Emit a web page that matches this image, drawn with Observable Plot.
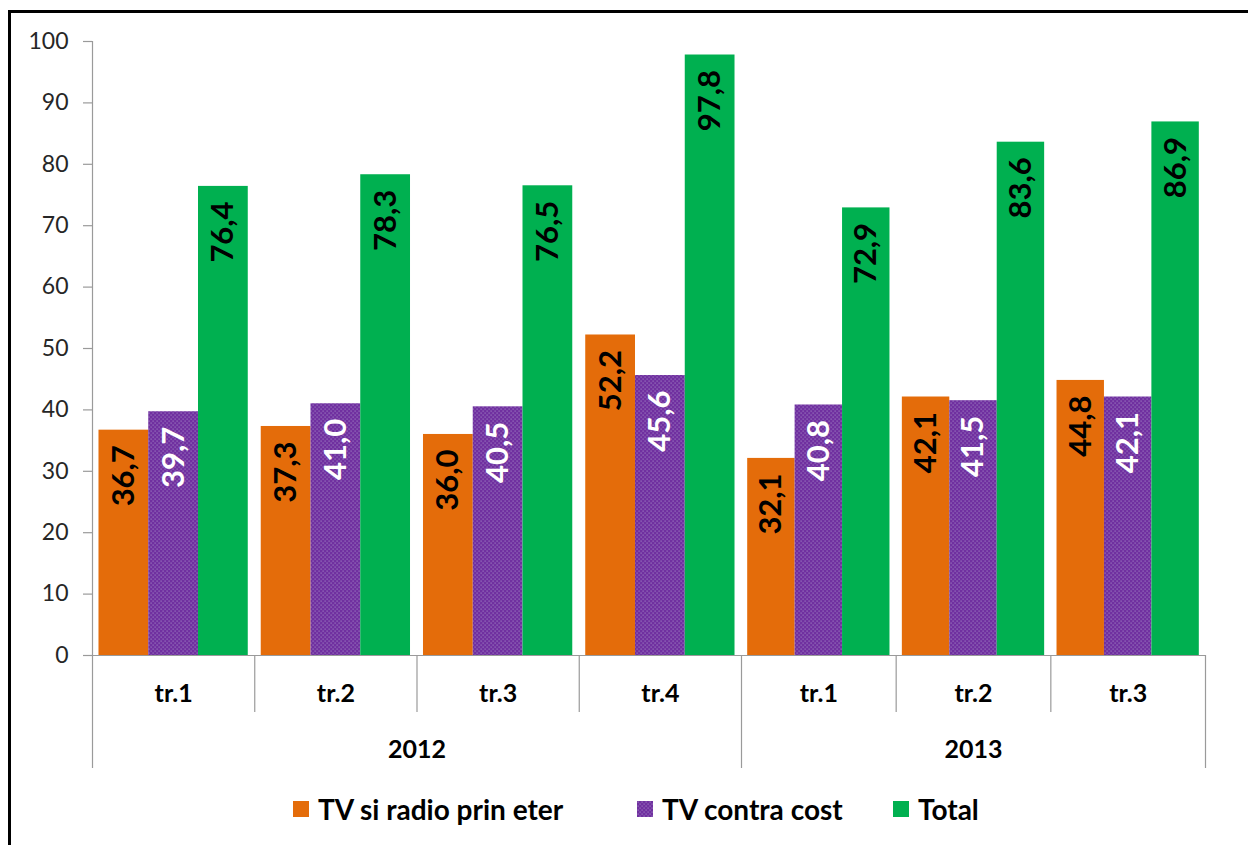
<!DOCTYPE html>
<html>
<head>
<meta charset="utf-8">
<script src="https://cdn.jsdelivr.net/npm/d3@7"></script>
<script src="https://cdn.jsdelivr.net/npm/@observablehq/plot@0.6"></script>
<style>
html, body { margin: 0; padding: 0; background: #fff; width: 1248px; height: 845px; overflow: hidden; font-family: Lato, "Open Sans", sans-serif; }
#frame { position: absolute; left: 8px; top: 10px; width: 1300px; height: 900px; border: 3px solid #000; box-sizing: border-box; z-index: 2; pointer-events: none; }
#chart { position: absolute; left: 0; top: 0; }
#legend { position: absolute; left: 0; top: 0; width: 1248px; height: 845px; }
.item { position: absolute; top: 793px; height: 32px; line-height: 32px; display: flex; align-items: center; font-weight: 700; font-size: 28px; color: #000; white-space: nowrap; }
.item svg { margin-right: 9px; display: block; }
</style>
</head>
<body>
<svg width="0" height="0" style="position:absolute">
  <defs>
    <pattern id="dots" patternUnits="userSpaceOnUse" width="4" height="4">
      <rect width="4" height="4" fill="#7030A0"></rect>
      <rect x="0.5" y="0.5" width="1.2" height="1.2" fill="#9b79bf"></rect>
      <rect x="2.5" y="2.5" width="1.2" height="1.2" fill="#9b79bf"></rect>
    </pattern>
  </defs>
</svg>
<div id="frame"></div>
<div id="chart"></div>
<div id="legend"></div>
<script>
// ---- data ----
const years    = ["2012", "2012", "2012", "2012", "2013", "2013", "2013"];
const quarters = ["tr.1", "tr.2", "tr.3", "tr.4", "tr.1", "tr.2", "tr.3"];
const series   = ["TV si radio prin eter", "TV contra cost", "Total"];
const tvRadio  = [36.7, 37.3, 36.0, 52.2, 32.1, 42.1, 44.8];
const tvPlata  = [39.7, 41.0, 40.5, 45.6, 40.8, 41.5, 42.1];
const total    = [76.4, 78.3, 76.5, 97.8, 72.9, 83.6, 86.9];
const yTicks   = [0, 10, 20, 30, 40, 50, 60, 70, 80, 90, 100];

// ---- derived tables ----
const seriesValues = [tvRadio, tvPlata, total];
const rows = quarters.flatMap((q, i) => seriesValues.map((vals, s) => ({i, s, value: vals[i]})));
const n = quarters.length;
const yearList = Array.from(new Set(years));
const yearSpans = yearList.map(y => {
  const idx = years.map((v, i) => v === y ? i : -1).filter(i => i >= 0);
  return {year: y, start: idx[0], end: idx[idx.length - 1] + 1};
});
const boundaries = d3.range(0, n + 1).map(b => ({b, long: b === 0 || b === n || years[b] !== years[b - 1]}));
const firstYearCount = yearSpans[0].end;

// ---- styles ----
const fills = ["#E46C0A", "url(#dots)", "#00B050"];
const labelFills = ["#000000", "#ffffff", "#000000"];
const pad = 0.04;
const bw = (1 - 2 * pad) / series.length;
const fmt = v => v.toFixed(1).replace(".", ",");

const marks = [];
series.forEach((name, s) => {
  marks.push(Plot.rect(rows.filter(d => d.s === s), {
    x1: d => d.i + pad + d.s * bw,
    x2: d => d.i + pad + (d.s + 1) * bw,
    y1: 0, y2: "value", fill: fills[s]
  }));
});
series.forEach((name, s) => {
  marks.push(Plot.text(rows.filter(d => d.s === s), {
    x: d => d.i + pad + (d.s + 0.5) * bw,
    y: "value", text: d => fmt(d.value),
    rotate: -90, textAnchor: "end", dy: 15,
    fill: labelFills[s], fontWeight: "bold", fontSize: 31
  }));
});
// y axis
marks.push(Plot.ruleX([0], {y1: 0, y2: 100, stroke: "#9a9a9a", strokeWidth: 1.2}));
marks.push(Plot.ruleY(yTicks, {y: d => d, x1: 0, x2: 0, insetLeft: -9, stroke: "#9a9a9a", strokeWidth: 1.2}));
marks.push(Plot.text(yTicks, {x: 0, y: d => d, text: d => String(d), dx: -24, textAnchor: "end", fill: "#262626", fontSize: 23}));
// x axis baseline and separators
marks.push(Plot.ruleY([0], {x1: 0, x2: n, stroke: "#9a9a9a", strokeWidth: 1.2}));
marks.push(Plot.ruleX(boundaries.filter(d => !d.long), {x: "b", y1: 0, y2: 0, insetBottom: -57, stroke: "#9a9a9a", strokeWidth: 1.2}));
marks.push(Plot.ruleX(boundaries.filter(d => d.long), {x: "b", y1: 0, y2: 0, insetBottom: -113, stroke: "#9a9a9a", strokeWidth: 1.2}));
// category labels
marks.push(Plot.text(quarters.map((q, i) => ({q, i})), {x: d => d.i + 0.5, y: 0, dy: 38, text: "q", fontWeight: "bold", fontSize: 25, fill: "#000"}));
marks.push(Plot.text(yearSpans, {x: d => (d.start + d.end) / 2, y: 0, dy: 94, text: "year", fontWeight: "bold", fontSize: 25, fill: "#000"}));

const chart = Plot.plot({
  width: 1248,
  height: 780,
  marginLeft: 92,
  marginRight: 43,
  marginTop: 41,
  marginBottom: 125,
  style: {fontFamily: "Lato, 'Open Sans', sans-serif", background: "none", overflow: "visible"},
  x: {type: "linear", domain: [0, firstYearCount, n], range: [92, 741, 1205], axis: null},
  y: {domain: [0, 100], axis: null},
  marks
});
document.getElementById("chart").appendChild(chart);

// legend
const legendX = [293, 637, 893];
const legend = document.getElementById("legend");
series.forEach((name, s) => {
  const item = document.createElement("div");
  item.className = "item";
  item.style.left = legendX[s] + "px";
  item.innerHTML = `<svg width="16" height="16"><rect width="16" height="16" fill="${fills[s]}"></rect></svg><span>${name}</span>`;
  legend.appendChild(item);
});
</script>
</body>
</html>
